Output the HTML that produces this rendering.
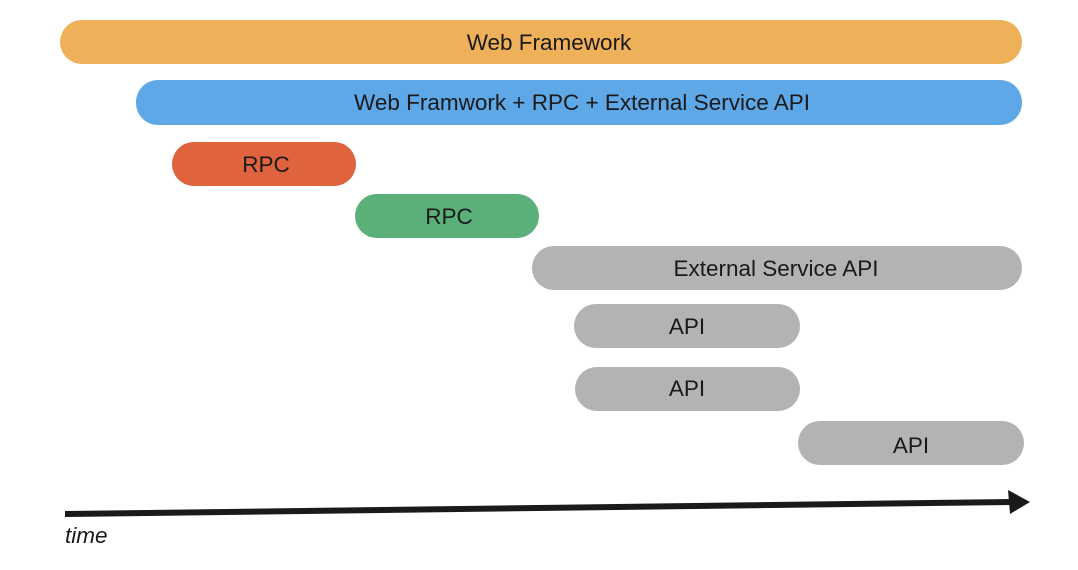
<!DOCTYPE html>
<html><head><style>body{margin:0;background:#fff}svg{display:block}</style></head><body>
<svg width="1078" height="570" xmlns="http://www.w3.org/2000/svg" font-family="Liberation Sans, DejaVu Sans, sans-serif" font-size="22.5" fill="#1a1a1a">
<rect x="60" y="20" width="962" height="44" rx="22" fill="#EFB05A"/>
<text x="549" y="50" text-anchor="middle">Web Framework</text>
<rect x="136" y="80" width="886" height="45" rx="22" fill="#5EA8E8"/>
<text x="582" y="110" text-anchor="middle">Web Framwork + RPC + External Service API</text>
<rect x="172" y="142" width="184" height="44" rx="22" fill="#DF643E"/>
<text x="266" y="172" text-anchor="middle">RPC</text>
<rect x="355" y="194" width="184" height="44" rx="22" fill="#5BB07A"/>
<text x="449" y="224" text-anchor="middle">RPC</text>
<rect x="532" y="246" width="490" height="44" rx="22" fill="#B3B3B3"/>
<text x="776" y="276" text-anchor="middle">External Service API</text>
<rect x="574" y="304" width="226" height="44" rx="22" fill="#B3B3B3"/>
<text x="687" y="334" text-anchor="middle">API</text>
<rect x="575" y="367" width="225" height="44" rx="22" fill="#B3B3B3"/>
<text x="687" y="396" text-anchor="middle">API</text>
<rect x="798" y="421" width="226" height="44" rx="22" fill="#B3B3B3"/>
<text x="911" y="453" text-anchor="middle">API</text>
<polygon points="65,511 1012,499 1012,505 65,517" fill="#1a1a1a"/>
<polygon points="1008,490 1030,502 1010,514" fill="#1a1a1a"/>
<text x="65" y="543" font-style="italic">time</text>
</svg>
</body></html>
